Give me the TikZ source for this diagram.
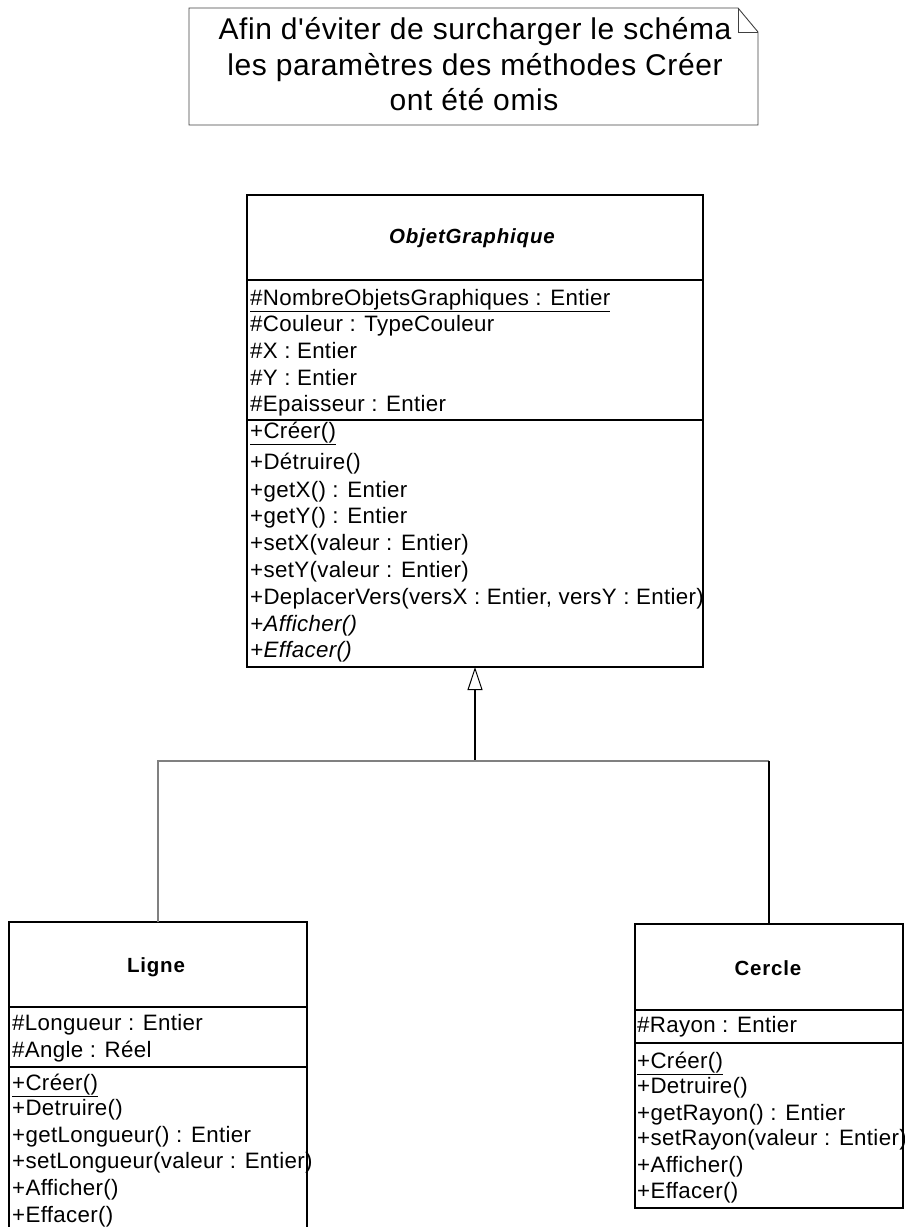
\documentclass[tikz,border=0pt]{standalone}
\usepackage{fontspec}
\newfontfamily\umlfont{Liberation Sans}[LetterSpace=1.5]
\newfontfamily\titlefont{Liberation Sans}[LetterSpace=4]
\newfontfamily\notefont{Liberation Sans}[LetterSpace=2]
\usetikzlibrary{arrows.meta}

\tikzset{
  classbox/.style={draw, line width=1.5pt, inner sep=0pt, outer sep=0pt, anchor=north west},
  divider/.style={line width=1.5pt},
  member/.style={anchor=base west, inner sep=0pt, font=\umlfont\fontsize{22.3}{26}\selectfont},
  classname/.style={anchor=base, inner sep=0pt, font=\titlefont\fontsize{20.5}{24}\selectfont\bfseries},
  notetext/.style={anchor=base, inner sep=0pt, font=\notefont\fontsize{30}{36}\selectfont},
  notefrm/.style={line width=0.9pt, black!75},
  inherit/.style={line width=1.3pt, -{Triangle[open, length=23pt, width=15pt, line width=1pt]}},
  busline/.style={line width=1.3pt, black!50},
  link/.style={line width=1.2pt}
}

\begin{document}
\begin{tikzpicture}[x=1pt,y=-1pt]
\useasboundingbox (0,0) rectangle (905,1227);
\clip (0,0) rectangle (905,1227);

% note
\draw[notefrm] (189,8) -- (738,8) -- (758,32) -- (758,125) -- (189,125) -- cycle;
\draw[notefrm] (738,8) -- (738,32) -- (758,32);
\node[notetext] (note1) at (475,39) {Afin d'éviter de surcharger le schéma};
\node[notetext] (note2) at (475,75) {les paramètres des méthodes Créer};
\node[notetext] (note3) at (474,110) {ont été omis};

% ObjetGraphique
\node[classbox, minimum width=456pt, minimum height=472pt] (objet) at (247,195) {};
\node[classname] (objet-name) at (472,243) {\itshape ObjetGraphique};
\draw[divider] (objet.west |- 0,280) -- (objet.east |- 0,280);
\draw[divider] (objet.west |- 0,420) -- (objet.east |- 0,420);
\foreach \yp/\txt [count=\i] in {
  305/{\underline{\#NombreObjetsGraphiques : Entier}},
  331/{\#Couleur : TypeCouleur},
  358/{\#X : Entier},
  385/{\#Y : Entier},
  411/{\#Epaisseur : Entier}}
  \node[member] (og-a\i) at (250,\yp) {\txt};
\foreach \yp/\txt [count=\i] in {
  438/{\underline{+Créer()}},
  469/{+Détruire()},
  497/{+getX() : Entier},
  523/{+getY() : Entier},
  550/{+setX(valeur : Entier)},
  577/{+setY(valeur : Entier)},
  604/{+DeplacerVers(versX : Entier, versY : Entier)},
  631/{\itshape +Afficher()},
  657/{\itshape +Effacer()}}
  \node[member] (og-m\i) at (250,\yp) {\txt};

% Ligne
\node[classbox, minimum width=298pt, minimum height=320pt] (ligne) at (9,922) {};
\node[classname] (ligne-name) at (156,972) {Ligne};
\draw[divider] (ligne.west |- 0,1007) -- (ligne.east |- 0,1007);
\draw[divider] (ligne.west |- 0,1067) -- (ligne.east |- 0,1067);
\foreach \yp/\txt [count=\i] in {
  1030/{\#Longueur : Entier},
  1057/{\#Angle : Réel}}
  \node[member] (li-a\i) at (12,\yp) {\txt};
\foreach \yp/\txt [count=\i] in {
  1090/{\underline{+Créer()}},
  1115/{+Detruire()},
  1142/{+getLongueur() : Entier},
  1168/{+setLongueur(valeur : Entier)},
  1195/{+Afficher()},
  1222/{+Effacer()}}
  \node[member] (li-m\i) at (12,\yp) {\txt};

% Cercle
\node[classbox, minimum width=268pt, minimum height=284pt] (cercle) at (635,924) {};
\node[classname] (cercle-name) at (768,975) {Cercle};
\draw[divider] (cercle.west |- 0,1010) -- (cercle.east |- 0,1010);
\draw[divider] (cercle.west |- 0,1043) -- (cercle.east |- 0,1043);
\node[member] (ce-a1) at (637,1032) {\#Rayon : Entier};
\foreach \yp/\txt [count=\i] in {
  1068/{\underline{+Créer()}},
  1093/{+Detruire()},
  1120/{+getRayon() : Entier},
  1145/{+setRayon(valeur : Entier)},
  1172/{+Afficher()},
  1198/{+Effacer()}}
  \node[member] (ce-m\i) at (637,\yp) {\txt};

% heritage
\coordinate (bus) at (objet.south |- 0,761);
\draw[inherit] (bus) -- (objet.south);
\draw[busline] (ligne.north) |- (bus) -- (bus -| cercle.north);
\draw[link] (bus -| cercle.north) -- (cercle.north);
\end{tikzpicture}
\end{document}
